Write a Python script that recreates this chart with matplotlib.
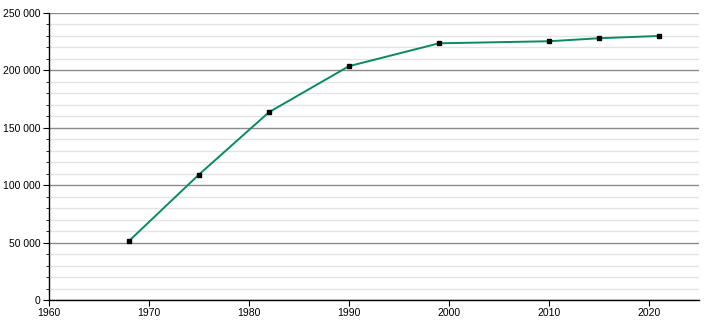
import matplotlib
matplotlib.use("Agg")
import matplotlib.pyplot as plt
from matplotlib.ticker import MultipleLocator, FuncFormatter

years = [1968, 1975, 1982, 1990, 1999, 2010, 2015, 2021]
population = [51400, 109300, 163600, 203700, 223600, 225400, 228000, 230000]

plt.rcParams['font.family'] = ['Liberation Sans', 'DejaVu Sans']

fig = plt.figure(figsize=(7.1, 3.2), dpi=100)
ax = fig.add_axes([49/710, 20/320, 650/710, 287/320])

ax.set_xlim(1960, 2025)
ax.set_ylim(0, 250000)

ax.yaxis.set_major_locator(MultipleLocator(50000))
ax.yaxis.set_minor_locator(MultipleLocator(10000))
ax.xaxis.set_major_locator(MultipleLocator(10))

ax.yaxis.set_major_formatter(FuncFormatter(lambda v, p: f"{int(v):,}".replace(",", " ")))

ax.grid(which='minor', axis='y', color='#e3e3e3', linewidth=1)
ax.grid(which='major', axis='y', color='#8a8a8a', linewidth=1)
ax.set_axisbelow(True)

ax.plot(years, population, color='#0a8a62', linewidth=1.4, zorder=3)
ax.plot(years, population, linestyle='none', marker='s', markersize=3.2,
        color='black', zorder=4)

for s in ['top', 'right']:
    ax.spines[s].set_visible(False)
for s in ['left', 'bottom']:
    ax.spines[s].set_color('black')
    ax.spines[s].set_linewidth(1)

ax.tick_params(axis='y', which='major', labelsize=7.5, length=4, pad=2, color='black')
ax.tick_params(axis='x', which='major', labelsize=7.5, length=4, pad=2, color='black')
ax.tick_params(axis='y', which='minor', length=2.5, color='black')

fig.savefig("out.png", dpi=100)
